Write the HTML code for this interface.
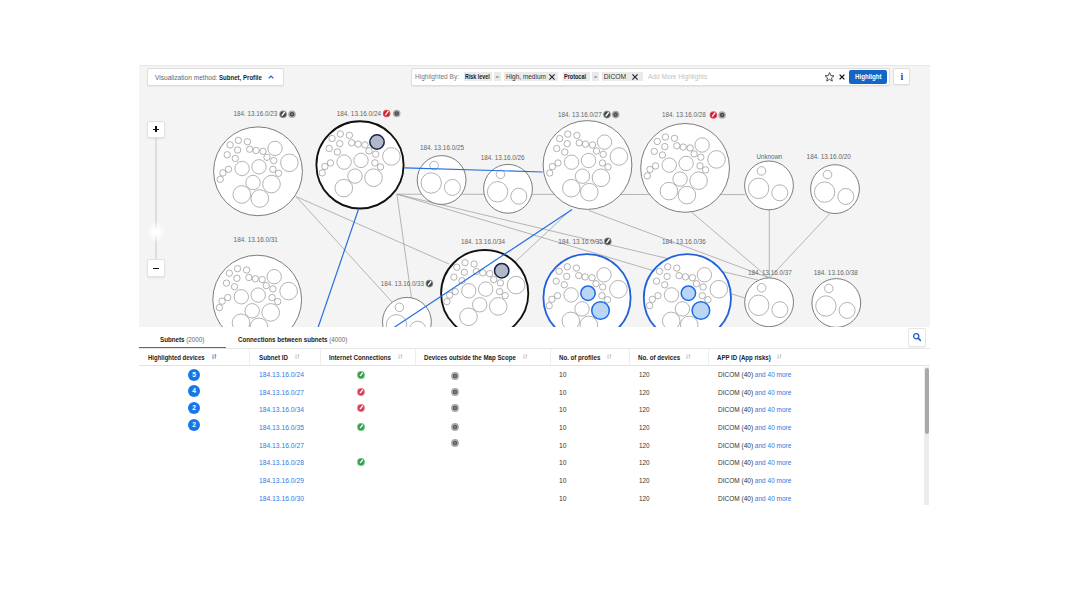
<!DOCTYPE html>
<html><head><meta charset="utf-8">
<style>
*{box-sizing:border-box;margin:0;padding:0}
html,body{width:1067px;height:593px;overflow:hidden;background:#fff}
body{position:relative;font-family:"Liberation Sans",Arial,sans-serif;color:#222}
.abs{position:absolute;white-space:nowrap}
#map{position:absolute;left:139px;top:65px;width:791px;height:262px;background:#f4f4f4;border-top:1px solid #dcecf7;overflow:hidden}
#map svg{position:absolute;left:0;top:-1px}
.o{fill:#fff;stroke:#6e6e6e;stroke-width:.9}
.ob{fill:#fff;stroke:#111;stroke-width:1.85}
.obl{fill:#fff;stroke:#2361dc;stroke-width:1.8}
.i{fill:none;stroke:#999;stroke-width:.75}
.hb{fill:#b1b9c9;stroke:#17234e;stroke-width:1.5}
.hbl{fill:#bad6f6;stroke:#1c6be0;stroke-width:1.5}
.gl{stroke:#9a9a9a;stroke-width:.7}
.bl{stroke:#2370e2;stroke-width:1.2}
.lb{font-family:"Liberation Sans",Arial,sans-serif;font-size:6.85px;fill:#666}
.box{position:absolute;background:#fff;border:1px solid #dedede;border-radius:2px;box-shadow:0 1px 1px rgba(0,0,0,.06)}
.zb{position:absolute;left:147.3px;width:17.3px;height:17.3px;background:#fff;border:1px solid #e2e2e2;border-radius:2px;box-shadow:0 1px 2px rgba(0,0,0,.08)}
#tbl{position:absolute;left:139px;top:327px;width:791px;height:178px;background:#fff}
</style></head><body>
<div id="map">
<svg width="791" height="263" viewBox="139 65 791 263">
<line x1="296.2" y1="196.6" x2="449" y2="264" class="gl"/>
<line x1="296.2" y1="196.6" x2="392" y2="302" class="gl"/>
<line x1="396.9" y1="194.2" x2="745" y2="194.6" class="gl"/>
<line x1="396.9" y1="194.2" x2="411.5" y2="298" class="gl"/>
<line x1="396.9" y1="194.2" x2="758" y2="280" class="gl"/>
<line x1="396.9" y1="194.2" x2="745" y2="298" class="gl"/>
<line x1="567.4" y1="213.1" x2="515" y2="262" class="gl"/>
<line x1="588.9" y1="210.5" x2="768.2" y2="277.5" class="gl"/>
<line x1="692" y1="212.5" x2="768.2" y2="277.5" class="gl"/>
<line x1="769.3" y1="208" x2="769.3" y2="277.5" class="gl"/>
<line x1="829.6" y1="213.8" x2="770" y2="277.5" class="gl"/>
<circle cx="258" cy="171.3" r="44.4" class="o"/>
<circle cx="230.1" cy="144.9" r="3.2" class="i"/>
<circle cx="238.3" cy="140.4" r="3.2" class="i"/>
<circle cx="247.4" cy="141.7" r="3.2" class="i"/>
<circle cx="237.7" cy="150" r="3.2" class="i"/>
<circle cx="249.7" cy="149.2" r="3.2" class="i"/>
<circle cx="256.1" cy="150.5" r="3.2" class="i"/>
<circle cx="263" cy="151.3" r="3.2" class="i"/>
<circle cx="227.2" cy="154.8" r="3.2" class="i"/>
<circle cx="235.3" cy="158.4" r="3.2" class="i"/>
<circle cx="267" cy="157.3" r="3.2" class="i"/>
<circle cx="273.7" cy="160.6" r="3.2" class="i"/>
<circle cx="228.5" cy="169.3" r="3.2" class="i"/>
<circle cx="222.9" cy="172.9" r="3.2" class="i"/>
<circle cx="220.2" cy="179.3" r="3.2" class="i"/>
<circle cx="272.9" cy="169.3" r="3.2" class="i"/>
<circle cx="278.5" cy="173.3" r="3.2" class="i"/>
<circle cx="275" cy="148.4" r="7.2" class="i"/>
<circle cx="242.1" cy="168.5" r="7.2" class="i"/>
<circle cx="259" cy="166.8" r="7.2" class="i"/>
<circle cx="253" cy="182.5" r="7.2" class="i"/>
<circle cx="289.4" cy="162.8" r="8.8" class="i"/>
<circle cx="271.5" cy="184.1" r="8.8" class="i"/>
<circle cx="241.8" cy="194.5" r="8.8" class="i"/>
<circle cx="259.8" cy="198.5" r="8.8" class="i"/>
<circle cx="360" cy="164.9" r="43.6" class="ob"/>
<circle cx="332.1" cy="138.5" r="3.2" class="i"/>
<circle cx="340.3" cy="134" r="3.2" class="i"/>
<circle cx="349.4" cy="135.3" r="3.2" class="i"/>
<circle cx="339.7" cy="143.6" r="3.2" class="i"/>
<circle cx="351.7" cy="142.8" r="3.2" class="i"/>
<circle cx="358.1" cy="144.1" r="3.2" class="i"/>
<circle cx="365" cy="144.9" r="3.2" class="i"/>
<circle cx="329.2" cy="148.4" r="3.2" class="i"/>
<circle cx="337.3" cy="152" r="3.2" class="i"/>
<circle cx="369" cy="150.9" r="3.2" class="i"/>
<circle cx="375.7" cy="154.2" r="3.2" class="i"/>
<circle cx="330.5" cy="162.9" r="3.2" class="i"/>
<circle cx="324.9" cy="166.5" r="3.2" class="i"/>
<circle cx="322.2" cy="172.9" r="3.2" class="i"/>
<circle cx="374.9" cy="162.9" r="3.2" class="i"/>
<circle cx="380.5" cy="166.9" r="3.2" class="i"/>
<circle cx="377" cy="142" r="7.2" class="hb"/>
<circle cx="344.1" cy="162.1" r="7.2" class="i"/>
<circle cx="361" cy="160.4" r="7.2" class="i"/>
<circle cx="355" cy="176.1" r="7.2" class="i"/>
<circle cx="391.4" cy="156.4" r="8.8" class="i"/>
<circle cx="373.5" cy="177.7" r="8.8" class="i"/>
<circle cx="343.8" cy="188.1" r="8.8" class="i"/>
<circle cx="587.5" cy="165" r="44.4" class="o"/>
<circle cx="559.6" cy="138.6" r="3.2" class="i"/>
<circle cx="567.8" cy="134.1" r="3.2" class="i"/>
<circle cx="576.9" cy="135.4" r="3.2" class="i"/>
<circle cx="567.2" cy="143.7" r="3.2" class="i"/>
<circle cx="579.2" cy="142.9" r="3.2" class="i"/>
<circle cx="585.6" cy="144.2" r="3.2" class="i"/>
<circle cx="592.5" cy="145" r="3.2" class="i"/>
<circle cx="556.7" cy="148.5" r="3.2" class="i"/>
<circle cx="564.8" cy="152.1" r="3.2" class="i"/>
<circle cx="596.5" cy="151" r="3.2" class="i"/>
<circle cx="603.2" cy="154.3" r="3.2" class="i"/>
<circle cx="558" cy="163" r="3.2" class="i"/>
<circle cx="552.4" cy="166.6" r="3.2" class="i"/>
<circle cx="549.7" cy="173" r="3.2" class="i"/>
<circle cx="602.4" cy="163" r="3.2" class="i"/>
<circle cx="608" cy="167" r="3.2" class="i"/>
<circle cx="604.5" cy="142.1" r="7.2" class="i"/>
<circle cx="571.6" cy="162.2" r="7.2" class="i"/>
<circle cx="588.5" cy="160.5" r="7.2" class="i"/>
<circle cx="582.5" cy="176.2" r="7.2" class="i"/>
<circle cx="618.9" cy="156.5" r="8.8" class="i"/>
<circle cx="601" cy="177.8" r="8.8" class="i"/>
<circle cx="571.3" cy="188.2" r="8.8" class="i"/>
<circle cx="589.3" cy="192.2" r="8.8" class="i"/>
<circle cx="685.1" cy="167.9" r="44.4" class="o"/>
<circle cx="657.2" cy="141.5" r="3.2" class="i"/>
<circle cx="665.4" cy="137" r="3.2" class="i"/>
<circle cx="674.5" cy="138.3" r="3.2" class="i"/>
<circle cx="664.8" cy="146.6" r="3.2" class="i"/>
<circle cx="676.8" cy="145.8" r="3.2" class="i"/>
<circle cx="683.2" cy="147.1" r="3.2" class="i"/>
<circle cx="690.1" cy="147.9" r="3.2" class="i"/>
<circle cx="654.3" cy="151.4" r="3.2" class="i"/>
<circle cx="662.4" cy="155" r="3.2" class="i"/>
<circle cx="694.1" cy="153.9" r="3.2" class="i"/>
<circle cx="700.8" cy="157.2" r="3.2" class="i"/>
<circle cx="655.6" cy="165.9" r="3.2" class="i"/>
<circle cx="650" cy="169.5" r="3.2" class="i"/>
<circle cx="647.3" cy="175.9" r="3.2" class="i"/>
<circle cx="700" cy="165.9" r="3.2" class="i"/>
<circle cx="705.6" cy="169.9" r="3.2" class="i"/>
<circle cx="702.1" cy="145" r="7.2" class="i"/>
<circle cx="669.2" cy="165.1" r="7.2" class="i"/>
<circle cx="686.1" cy="163.4" r="7.2" class="i"/>
<circle cx="680.1" cy="179.1" r="7.2" class="i"/>
<circle cx="716.5" cy="159.4" r="8.8" class="i"/>
<circle cx="698.6" cy="180.7" r="8.8" class="i"/>
<circle cx="668.9" cy="191.1" r="8.8" class="i"/>
<circle cx="686.9" cy="195.1" r="8.8" class="i"/>
<circle cx="257.2" cy="299.6" r="44.4" class="o"/>
<circle cx="229.3" cy="273.2" r="3.2" class="i"/>
<circle cx="237.5" cy="268.7" r="3.2" class="i"/>
<circle cx="246.6" cy="270" r="3.2" class="i"/>
<circle cx="236.9" cy="278.3" r="3.2" class="i"/>
<circle cx="248.9" cy="277.5" r="3.2" class="i"/>
<circle cx="255.3" cy="278.8" r="3.2" class="i"/>
<circle cx="262.2" cy="279.6" r="3.2" class="i"/>
<circle cx="226.4" cy="283.1" r="3.2" class="i"/>
<circle cx="234.5" cy="286.7" r="3.2" class="i"/>
<circle cx="266.2" cy="285.6" r="3.2" class="i"/>
<circle cx="272.9" cy="288.9" r="3.2" class="i"/>
<circle cx="227.7" cy="297.6" r="3.2" class="i"/>
<circle cx="222.1" cy="301.2" r="3.2" class="i"/>
<circle cx="219.4" cy="307.6" r="3.2" class="i"/>
<circle cx="272.1" cy="297.6" r="3.2" class="i"/>
<circle cx="277.7" cy="301.6" r="3.2" class="i"/>
<circle cx="274.2" cy="276.7" r="7.2" class="i"/>
<circle cx="241.3" cy="296.8" r="7.2" class="i"/>
<circle cx="258.2" cy="295.1" r="7.2" class="i"/>
<circle cx="252.2" cy="310.8" r="7.2" class="i"/>
<circle cx="288.6" cy="291.1" r="8.8" class="i"/>
<circle cx="270.7" cy="312.4" r="8.8" class="i"/>
<circle cx="241" cy="322.8" r="8.8" class="i"/>
<circle cx="259" cy="326.8" r="8.8" class="i"/>
<circle cx="484.7" cy="293.6" r="43.6" class="ob"/>
<circle cx="456.8" cy="267.2" r="3.2" class="i"/>
<circle cx="465" cy="262.7" r="3.2" class="i"/>
<circle cx="474.1" cy="264" r="3.2" class="i"/>
<circle cx="464.4" cy="272.3" r="3.2" class="i"/>
<circle cx="476.4" cy="271.5" r="3.2" class="i"/>
<circle cx="482.8" cy="272.8" r="3.2" class="i"/>
<circle cx="489.7" cy="273.6" r="3.2" class="i"/>
<circle cx="453.9" cy="277.1" r="3.2" class="i"/>
<circle cx="462" cy="280.7" r="3.2" class="i"/>
<circle cx="493.7" cy="279.6" r="3.2" class="i"/>
<circle cx="500.4" cy="282.9" r="3.2" class="i"/>
<circle cx="455.2" cy="291.6" r="3.2" class="i"/>
<circle cx="449.6" cy="295.2" r="3.2" class="i"/>
<circle cx="446.9" cy="301.6" r="3.2" class="i"/>
<circle cx="499.6" cy="291.6" r="3.2" class="i"/>
<circle cx="505.2" cy="295.6" r="3.2" class="i"/>
<circle cx="501.7" cy="270.7" r="7.2" class="hb"/>
<circle cx="468.8" cy="290.8" r="7.2" class="i"/>
<circle cx="485.7" cy="289.1" r="7.2" class="i"/>
<circle cx="479.7" cy="304.8" r="7.2" class="i"/>
<circle cx="516.1" cy="285.1" r="8.8" class="i"/>
<circle cx="498.2" cy="306.4" r="8.8" class="i"/>
<circle cx="468.5" cy="316.8" r="8.8" class="i"/>
<circle cx="587" cy="297.7" r="43.6" class="obl"/>
<circle cx="559.1" cy="271.3" r="3.2" class="i"/>
<circle cx="567.3" cy="266.8" r="3.2" class="i"/>
<circle cx="576.4" cy="268.1" r="3.2" class="i"/>
<circle cx="566.7" cy="276.4" r="3.2" class="i"/>
<circle cx="578.7" cy="275.6" r="3.2" class="i"/>
<circle cx="585.1" cy="276.9" r="3.2" class="i"/>
<circle cx="592" cy="277.7" r="3.2" class="i"/>
<circle cx="556.2" cy="281.2" r="3.2" class="i"/>
<circle cx="564.3" cy="284.8" r="3.2" class="i"/>
<circle cx="596" cy="283.7" r="3.2" class="i"/>
<circle cx="602.7" cy="287" r="3.2" class="i"/>
<circle cx="557.5" cy="295.7" r="3.2" class="i"/>
<circle cx="551.9" cy="299.3" r="3.2" class="i"/>
<circle cx="549.2" cy="305.7" r="3.2" class="i"/>
<circle cx="601.9" cy="295.7" r="3.2" class="i"/>
<circle cx="607.5" cy="299.7" r="3.2" class="i"/>
<circle cx="604" cy="274.8" r="7.2" class="i"/>
<circle cx="571.1" cy="294.9" r="7.2" class="i"/>
<circle cx="588" cy="293.2" r="7.2" class="hbl"/>
<circle cx="582" cy="308.9" r="7.2" class="i"/>
<circle cx="618.4" cy="289.2" r="8.8" class="i"/>
<circle cx="600.5" cy="310.5" r="8.8" class="hbl"/>
<circle cx="570.8" cy="320.9" r="8.8" class="i"/>
<circle cx="588.8" cy="324.9" r="8.8" class="i"/>
<circle cx="687.4" cy="297.7" r="43.6" class="obl"/>
<circle cx="659.5" cy="271.3" r="3.2" class="i"/>
<circle cx="667.7" cy="266.8" r="3.2" class="i"/>
<circle cx="676.8" cy="268.1" r="3.2" class="i"/>
<circle cx="667.1" cy="276.4" r="3.2" class="i"/>
<circle cx="679.1" cy="275.6" r="3.2" class="i"/>
<circle cx="685.5" cy="276.9" r="3.2" class="i"/>
<circle cx="692.4" cy="277.7" r="3.2" class="i"/>
<circle cx="656.6" cy="281.2" r="3.2" class="i"/>
<circle cx="664.7" cy="284.8" r="3.2" class="i"/>
<circle cx="696.4" cy="283.7" r="3.2" class="i"/>
<circle cx="703.1" cy="287" r="3.2" class="i"/>
<circle cx="657.9" cy="295.7" r="3.2" class="i"/>
<circle cx="652.3" cy="299.3" r="3.2" class="i"/>
<circle cx="649.6" cy="305.7" r="3.2" class="i"/>
<circle cx="702.3" cy="295.7" r="3.2" class="i"/>
<circle cx="707.9" cy="299.7" r="3.2" class="i"/>
<circle cx="704.4" cy="274.8" r="7.2" class="i"/>
<circle cx="671.5" cy="294.9" r="7.2" class="i"/>
<circle cx="688.4" cy="293.2" r="7.2" class="hbl"/>
<circle cx="682.4" cy="308.9" r="7.2" class="i"/>
<circle cx="718.8" cy="289.2" r="8.8" class="i"/>
<circle cx="700.9" cy="310.5" r="8.8" class="hbl"/>
<circle cx="671.2" cy="320.9" r="8.8" class="i"/>
<circle cx="689.2" cy="324.9" r="8.8" class="i"/>
<circle cx="441.6" cy="180" r="24.4" class="o"/>
<circle cx="434.1" cy="165.5" r="4.3" class="i"/>
<circle cx="431.2" cy="183" r="10.2" class="i"/>
<circle cx="452.4" cy="187.4" r="8" class="i"/>
<circle cx="508" cy="188.8" r="24.4" class="o"/>
<circle cx="500.5" cy="174.3" r="4.3" class="i"/>
<circle cx="497.6" cy="191.8" r="10.2" class="i"/>
<circle cx="518.8" cy="196.2" r="8" class="i"/>
<circle cx="769" cy="185.4" r="24.4" class="o"/>
<circle cx="761.5" cy="170.9" r="4.3" class="i"/>
<circle cx="758.6" cy="188.4" r="10.2" class="i"/>
<circle cx="779.8" cy="192.8" r="8" class="i"/>
<circle cx="835" cy="189.1" r="24.4" class="o"/>
<circle cx="827.5" cy="174.6" r="4.3" class="i"/>
<circle cx="824.6" cy="192.1" r="10.2" class="i"/>
<circle cx="845.8" cy="196.5" r="8" class="i"/>
<circle cx="406.9" cy="321.8" r="24.4" class="o"/>
<circle cx="399.4" cy="307.3" r="4.3" class="i"/>
<circle cx="396.5" cy="324.8" r="10.2" class="i"/>
<circle cx="417.7" cy="329.2" r="8" class="i"/>
<circle cx="769.1" cy="302.3" r="24.4" class="o"/>
<circle cx="761.6" cy="287.8" r="4.3" class="i"/>
<circle cx="758.7" cy="305.3" r="10.2" class="i"/>
<circle cx="779.9" cy="309.7" r="8" class="i"/>
<circle cx="836.3" cy="303" r="24.4" class="o"/>
<circle cx="828.8" cy="288.5" r="4.3" class="i"/>
<circle cx="825.9" cy="306" r="10.2" class="i"/>
<circle cx="847.1" cy="310.4" r="8" class="i"/>
<line x1="404.5" y1="167.8" x2="542.6" y2="172" class="bl"/>
<line x1="358.5" y1="209.3" x2="315.5" y2="335" class="bl"/>
<line x1="572.1" y1="209.4" x2="382.7" y2="335" class="bl"/>
<text x="233.6" y="116.35" class="lb" textLength="43.6" lengthAdjust="spacingAndGlyphs">184. 13.16.0/23</text>
<text x="336.7" y="115.95" class="lb" textLength="44.3" lengthAdjust="spacingAndGlyphs">184. 13.16.0/24</text>
<text x="420.0" y="149.85" class="lb" textLength="44.0" lengthAdjust="spacingAndGlyphs">184. 13.16.0/25</text>
<text x="480.8" y="159.95" class="lb" textLength="43.8" lengthAdjust="spacingAndGlyphs">184. 13.16.0/26</text>
<text x="557.9" y="117.05" class="lb" textLength="43.8" lengthAdjust="spacingAndGlyphs">184. 13.16.0/27</text>
<text x="662.0" y="117.45" class="lb" textLength="43.7" lengthAdjust="spacingAndGlyphs">184. 13.16.0/28</text>
<text x="756.5" y="159.25" class="lb" textLength="25.8" lengthAdjust="spacingAndGlyphs">Unknown</text>
<text x="806.6" y="159.35" class="lb" textLength="44.2" lengthAdjust="spacingAndGlyphs">184. 13.16.0/20</text>
<text x="233.6" y="242.45" class="lb" textLength="44.3" lengthAdjust="spacingAndGlyphs">184. 13.16.0/31</text>
<text x="380.8" y="286.35" class="lb" textLength="43.2" lengthAdjust="spacingAndGlyphs">184. 13.16.0/33</text>
<text x="461.0" y="244.25" class="lb" textLength="44.0" lengthAdjust="spacingAndGlyphs">184. 13.16.0/34</text>
<text x="558.2" y="243.85" class="lb" textLength="44.7" lengthAdjust="spacingAndGlyphs">184. 13.16.0/35</text>
<text x="662.0" y="243.85" class="lb" textLength="43.8" lengthAdjust="spacingAndGlyphs">184. 13.16.0/36</text>
<text x="747.9" y="275.05" class="lb" textLength="44.0" lengthAdjust="spacingAndGlyphs">184. 13.16.0/37</text>
<text x="813.8" y="274.65" class="lb" textLength="44.0" lengthAdjust="spacingAndGlyphs">184. 13.16.0/38</text>
<circle cx="283.1" cy="114.2" r="3.8" fill="#8a8a8a"/><circle cx="283.1" cy="114.2" r="2.8" fill="#444"/><path d="M284.50 112.30 L282.20 115.30" stroke="#fff" stroke-width="1.4" stroke-linecap="round"/>
<circle cx="292" cy="114.2" r="3.8" fill="#ababab"/><circle cx="292" cy="114.2" r="2.3" fill="#474747"/><circle cx="292" cy="114.2" r="1.1" fill="#808080"/>
<circle cx="386.6" cy="113.5" r="3.8" fill="#e9525d"/><circle cx="386.6" cy="113.5" r="2.8" fill="#c91f2c"/><path d="M388.00 111.60 L385.70 114.60" stroke="#fff" stroke-width="1.4" stroke-linecap="round"/>
<circle cx="396.7" cy="113.5" r="3.8" fill="#ababab"/><circle cx="396.7" cy="113.5" r="2.3" fill="#474747"/><circle cx="396.7" cy="113.5" r="1.1" fill="#808080"/>
<circle cx="607" cy="114.6" r="3.8" fill="#8a8a8a"/><circle cx="607" cy="114.6" r="2.8" fill="#444"/><path d="M608.40 112.70 L606.10 115.70" stroke="#fff" stroke-width="1.4" stroke-linecap="round"/>
<circle cx="615.6" cy="114.6" r="3.8" fill="#ababab"/><circle cx="615.6" cy="114.6" r="2.3" fill="#474747"/><circle cx="615.6" cy="114.6" r="1.1" fill="#808080"/>
<circle cx="713.4" cy="115" r="3.8" fill="#e9525d"/><circle cx="713.4" cy="115" r="2.8" fill="#c91f2c"/><path d="M714.80 113.10 L712.50 116.10" stroke="#fff" stroke-width="1.4" stroke-linecap="round"/>
<circle cx="722.1" cy="115" r="3.8" fill="#ababab"/><circle cx="722.1" cy="115" r="2.3" fill="#474747"/><circle cx="722.1" cy="115" r="1.1" fill="#808080"/>
<circle cx="429.4" cy="283.6" r="3.8" fill="#8a8a8a"/><circle cx="429.4" cy="283.6" r="2.8" fill="#444"/><path d="M430.80 281.70 L428.50 284.70" stroke="#fff" stroke-width="1.4" stroke-linecap="round"/>
<circle cx="607.8" cy="241.4" r="3.8" fill="#8a8a8a"/><circle cx="607.8" cy="241.4" r="2.8" fill="#444"/><path d="M609.20 239.50 L606.90 242.50" stroke="#fff" stroke-width="1.4" stroke-linecap="round"/>
</svg>
</div>
<div class="box" style="left:147.3px;top:67.9px;width:136.4px;height:18px"></div>
<div class="abs" style="left:154.5px;top:73.00px;height:10px;line-height:10px;font-size:6.9px;color:#666;transform:scaleX(0.9560);transform-origin:0 50%;">Visualization method:</div>
<div class="abs" style="left:219.4px;top:73.00px;height:10px;line-height:10px;font-size:6.9px;color:#1e1e1e;font-weight:bold;transform:scaleX(0.8823);transform-origin:0 50%;">Subnet, Profile</div>
<svg class="abs" style="left:266.5px;top:74px" width="8" height="6" viewBox="0 0 8 6"><path d="M1.6 4.4 L4 2 L6.4 4.4" fill="none" stroke="#1f5fcf" stroke-width="1.2"/></svg>
<div class="box" style="left:410.5px;top:68.3px;width:479px;height:17.3px"></div>
<div class="abs" style="left:414.8px;top:72.40px;height:10px;line-height:10px;font-size:6.7px;color:#777;transform:scaleX(0.9781);transform-origin:0 50%;">Highlighted By:</div>
<div class="abs" style="left:464.2px;top:72.4px;width:28.1px;height:8.8px;background:#eaeaea"></div>
<div class="abs" style="left:493.7px;top:72.4px;width:7.5px;height:8.8px;background:#eaeaea"></div>
<div class="abs" style="left:504px;top:72.4px;width:53.5px;height:8.8px;background:#eaeaea"></div>
<div class="abs" style="left:562.5px;top:72.4px;width:27.2px;height:8.8px;background:#eaeaea"></div>
<div class="abs" style="left:592px;top:72.4px;width:7.0px;height:8.8px;background:#eaeaea"></div>
<div class="abs" style="left:602.3px;top:72.4px;width:40.3px;height:8.8px;background:#eaeaea"></div>
<div class="abs" style="left:465.2px;top:72.40px;height:10px;line-height:10px;font-size:6.4px;color:#1a1a1a;font-weight:bold;transform:scaleX(0.8407);transform-origin:0 50%;">Risk level</div>
<div class="abs" style="left:495.6px;top:72.40px;height:10px;line-height:10px;font-size:6px;color:#777;">=</div>
<div class="abs" style="left:505.9px;top:72.40px;height:10px;line-height:10px;font-size:6.6px;color:#333;transform:scaleX(0.9806);transform-origin:0 50%;">High, medium</div>
<div class="abs" style="left:563.9px;top:72.40px;height:10px;line-height:10px;font-size:6.4px;color:#1a1a1a;font-weight:bold;transform:scaleX(0.8601);transform-origin:0 50%;">Protocal</div>
<div class="abs" style="left:593.7px;top:72.40px;height:10px;line-height:10px;font-size:6px;color:#777;">=</div>
<div class="abs" style="left:603.7px;top:72.40px;height:10px;line-height:10px;font-size:6.75px;color:#333;transform:scaleX(1.0000);transform-origin:0 50%;">DICOM</div>
<svg class="abs" style="left:547.6px;top:72.8px" width="8" height="8" viewBox="-4 -4 8 8"><path d="M-2.6 -2.6 L2.6 2.6 M2.6 -2.6 L-2.6 2.6" stroke="#222" stroke-width="1.1"/></svg>
<svg class="abs" style="left:631.4px;top:72.8px" width="8" height="8" viewBox="-4 -4 8 8"><path d="M-2.6 -2.6 L2.6 2.6 M2.6 -2.6 L-2.6 2.6" stroke="#222" stroke-width="1.1"/></svg>
<div class="abs" style="left:648.2px;top:72.40px;height:10px;line-height:10px;font-size:6.6px;color:#c2c2c2;transform:scaleX(0.9971);transform-origin:0 50%;">Add More Highlights</div>
<svg class="abs" style="left:823.6px;top:72px" width="11" height="10" viewBox="0 0 11 10"><path d="M5.5 .6 L6.8 3.6 L10 3.8 L7.5 5.9 L8.3 9.1 L5.5 7.4 L2.7 9.1 L3.5 5.9 L1 3.8 L4.2 3.6 Z" fill="none" stroke="#222" stroke-width=".8" stroke-linejoin="round"/></svg>
<svg class="abs" style="left:838.4px;top:72.9px" width="8" height="8" viewBox="-4 -4 8 8"><path d="M-2.4 -2.4 L2.4 2.4 M2.4 -2.4 L-2.4 2.4" stroke="#111" stroke-width="1.3"/></svg>
<div class="abs" style="left:849.1px;top:70.4px;width:38.1px;height:13.2px;background:#1465c8;border-radius:2px"></div>
<div class="abs" style="left:854.7px;top:72.20px;height:10px;line-height:10px;font-size:6.8px;color:#fff;font-weight:bold;transform:scaleX(0.9031);transform-origin:0 50%;">Highlight</div>
<div class="box" style="left:893px;top:68px;width:17px;height:17px"></div>
<div class="abs" style="left:900.5px;top:71.90px;height:10px;line-height:10px;font-size:10px;color:#1c3f9e;font-weight:bold;font-family:'Liberation Serif',serif;">i</div>
<div class="abs" style="left:155px;top:138px;width:1.6px;height:121.5px;background:#dedede"></div>
<div class="zb" style="top:120.5px"></div>
<div class="abs" style="left:153px;top:128.5px;width:6.4px;height:1.5px;background:#111"></div>
<div class="abs" style="left:155.45px;top:126px;width:1.5px;height:6.4px;background:#111"></div>
<div class="zb" style="top:259.4px"></div>
<div class="abs" style="left:153.3px;top:267.9px;width:5.8px;height:1.5px;background:#111"></div>
<div class="abs" style="left:146.8px;top:222.8px;width:18px;height:18px;border-radius:50%;background:radial-gradient(circle,#fff 0,#fff 22%,rgba(255,255,255,.55) 42%,rgba(255,255,255,.2) 80%,rgba(210,210,210,.35) 97%,rgba(210,210,210,0) 100%)"></div>
<div id="tbl"></div>
<div class="abs" style="left:160px;top:334.90px;height:10px;line-height:10px;font-size:6.8px;transform:scaleX(0.9158);transform-origin:0 50%;"><b style="color:#222">Subnets</b> <span style="color:#666">(2000)</span></div>
<div class="abs" style="left:237.8px;top:334.90px;height:10px;line-height:10px;font-size:6.8px;transform:scaleX(0.9119);transform-origin:0 50%;"><b style="color:#222">Connections between subnets</b> <span style="color:#666">(4000)</span></div>
<div class="abs" style="left:139px;top:346.7px;width:86.7px;height:1.3px;background:#2b6fdc"></div>
<div class="abs" style="left:139px;top:348px;width:791px;height:1px;background:#e6e6e6"></div>
<div class="abs" style="left:139px;top:365px;width:791px;height:1px;background:#e2e2e2"></div>
<div class="abs" style="left:249px;top:349px;width:1px;height:16px;background:#ededed"></div>
<div class="abs" style="left:320px;top:349px;width:1px;height:16px;background:#ededed"></div>
<div class="abs" style="left:415px;top:349px;width:1px;height:16px;background:#ededed"></div>
<div class="abs" style="left:550px;top:349px;width:1px;height:16px;background:#ededed"></div>
<div class="abs" style="left:629px;top:349px;width:1px;height:16px;background:#ededed"></div>
<div class="abs" style="left:708px;top:349px;width:1px;height:16px;background:#ededed"></div>
<div class="box" style="left:907.8px;top:328.3px;width:18.5px;height:18.5px;border-color:#e6e6e6"></div>
<svg class="abs" style="left:912px;top:332px" width="10" height="10" viewBox="0 0 10 10"><circle cx="4.2" cy="4.2" r="2.6" fill="none" stroke="#1f5fd0" stroke-width="1.3"/><path d="M6.1 6.1 L8.4 8.4" stroke="#1f5fd0" stroke-width="1.5" stroke-linecap="round"/></svg>
<div class="abs" style="left:147.7px;top:353.00px;height:10px;line-height:10px;font-size:6.9px;color:#222;font-weight:bold;transform:scaleX(0.8695);transform-origin:0 50%;">Highlighted devices</div>
<svg class="abs" style="left:211.7px;top:354.3px" width="5" height="5" viewBox="0 0 5 5"><path d="M1 .3 V4.4 M.1 3.4 L1 4.4 L1.9 3.4 M3.4 4.6 V.5 M2.5 1.5 L3.4 .5 L4.3 1.5" fill="none" stroke="#3a78d8" stroke-width=".75"/></svg>
<div class="abs" style="left:258.8px;top:353.00px;height:10px;line-height:10px;font-size:6.9px;color:#222;font-weight:bold;transform:scaleX(0.9018);transform-origin:0 50%;">Subnet ID</div>
<svg class="abs" style="left:294.7px;top:354.3px" width="5" height="5" viewBox="0 0 5 5"><path d="M1 .3 V4.4 M.1 3.4 L1 4.4 L1.9 3.4 M3.4 4.6 V.5 M2.5 1.5 L3.4 .5 L4.3 1.5" fill="none" stroke="#bbb" stroke-width=".75"/></svg>
<div class="abs" style="left:328.6px;top:353.00px;height:10px;line-height:10px;font-size:6.9px;color:#222;font-weight:bold;transform:scaleX(0.8981);transform-origin:0 50%;">Internet Connections</div>
<svg class="abs" style="left:398.2px;top:354.3px" width="5" height="5" viewBox="0 0 5 5"><path d="M1 .3 V4.4 M.1 3.4 L1 4.4 L1.9 3.4 M3.4 4.6 V.5 M2.5 1.5 L3.4 .5 L4.3 1.5" fill="none" stroke="#bbb" stroke-width=".75"/></svg>
<div class="abs" style="left:424.1px;top:353.00px;height:10px;line-height:10px;font-size:6.9px;color:#222;font-weight:bold;transform:scaleX(0.8921);transform-origin:0 50%;">Devices outside the Map Scope</div>
<svg class="abs" style="left:523.2px;top:354.3px" width="5" height="5" viewBox="0 0 5 5"><path d="M1 .3 V4.4 M.1 3.4 L1 4.4 L1.9 3.4 M3.4 4.6 V.5 M2.5 1.5 L3.4 .5 L4.3 1.5" fill="none" stroke="#bbb" stroke-width=".75"/></svg>
<div class="abs" style="left:559px;top:353.00px;height:10px;line-height:10px;font-size:6.9px;color:#222;font-weight:bold;transform:scaleX(0.8915);transform-origin:0 50%;">No. of profiles</div>
<svg class="abs" style="left:606.9000000000001px;top:354.3px" width="5" height="5" viewBox="0 0 5 5"><path d="M1 .3 V4.4 M.1 3.4 L1 4.4 L1.9 3.4 M3.4 4.6 V.5 M2.5 1.5 L3.4 .5 L4.3 1.5" fill="none" stroke="#bbb" stroke-width=".75"/></svg>
<div class="abs" style="left:637.8px;top:353.00px;height:10px;line-height:10px;font-size:6.9px;color:#222;font-weight:bold;transform:scaleX(0.9011);transform-origin:0 50%;">No. of devices</div>
<svg class="abs" style="left:686.3000000000001px;top:354.3px" width="5" height="5" viewBox="0 0 5 5"><path d="M1 .3 V4.4 M.1 3.4 L1 4.4 L1.9 3.4 M3.4 4.6 V.5 M2.5 1.5 L3.4 .5 L4.3 1.5" fill="none" stroke="#bbb" stroke-width=".75"/></svg>
<div class="abs" style="left:717.1px;top:353.00px;height:10px;line-height:10px;font-size:6.9px;color:#222;font-weight:bold;transform:scaleX(0.8837);transform-origin:0 50%;">APP ID (App risks)</div>
<svg class="abs" style="left:777.2px;top:354.3px" width="5" height="5" viewBox="0 0 5 5"><path d="M1 .3 V4.4 M.1 3.4 L1 4.4 L1.9 3.4 M3.4 4.6 V.5 M2.5 1.5 L3.4 .5 L4.3 1.5" fill="none" stroke="#bbb" stroke-width=".75"/></svg>
<div class="abs" style="left:259.1px;top:370.30px;height:10px;line-height:10px;font-size:6.8px;color:#2f7be0;transform:scaleX(0.9921);transform-origin:0 50%;">184.13.16.0/24</div>
<div class="abs" style="left:559.4px;top:370.30px;height:10px;line-height:10px;font-size:6.8px;color:#333;transform:scaleX(0.9917);transform-origin:0 50%;">10</div>
<div class="abs" style="left:639px;top:370.30px;height:10px;line-height:10px;font-size:6.8px;color:#333;transform:scaleX(0.9344);transform-origin:0 50%;">120</div>
<div class="abs" style="left:717.5px;top:370.30px;height:10px;line-height:10px;font-size:6.8px;color:#333;transform:scaleX(0.9569);transform-origin:0 50%;">DICOM (40) <span style="color:#2f7be0">and 40 more</span></div>
<div class="abs" style="left:259.1px;top:387.80px;height:10px;line-height:10px;font-size:6.8px;color:#2f7be0;transform:scaleX(0.9921);transform-origin:0 50%;">184.13.16.0/27</div>
<div class="abs" style="left:559.4px;top:387.80px;height:10px;line-height:10px;font-size:6.8px;color:#333;transform:scaleX(0.9917);transform-origin:0 50%;">10</div>
<div class="abs" style="left:639px;top:387.80px;height:10px;line-height:10px;font-size:6.8px;color:#333;transform:scaleX(0.9344);transform-origin:0 50%;">120</div>
<div class="abs" style="left:717.5px;top:387.80px;height:10px;line-height:10px;font-size:6.8px;color:#333;transform:scaleX(0.9569);transform-origin:0 50%;">DICOM (40) <span style="color:#2f7be0">and 40 more</span></div>
<div class="abs" style="left:259.1px;top:405.30px;height:10px;line-height:10px;font-size:6.8px;color:#2f7be0;transform:scaleX(0.9921);transform-origin:0 50%;">184.13.16.0/34</div>
<div class="abs" style="left:559.4px;top:405.30px;height:10px;line-height:10px;font-size:6.8px;color:#333;transform:scaleX(0.9917);transform-origin:0 50%;">10</div>
<div class="abs" style="left:639px;top:405.30px;height:10px;line-height:10px;font-size:6.8px;color:#333;transform:scaleX(0.9344);transform-origin:0 50%;">120</div>
<div class="abs" style="left:717.5px;top:405.30px;height:10px;line-height:10px;font-size:6.8px;color:#333;transform:scaleX(0.9569);transform-origin:0 50%;">DICOM (40) <span style="color:#2f7be0">and 40 more</span></div>
<div class="abs" style="left:259.1px;top:422.90px;height:10px;line-height:10px;font-size:6.8px;color:#2f7be0;transform:scaleX(0.9921);transform-origin:0 50%;">184.13.16.0/35</div>
<div class="abs" style="left:559.4px;top:422.90px;height:10px;line-height:10px;font-size:6.8px;color:#333;transform:scaleX(0.9917);transform-origin:0 50%;">10</div>
<div class="abs" style="left:639px;top:422.90px;height:10px;line-height:10px;font-size:6.8px;color:#333;transform:scaleX(0.9344);transform-origin:0 50%;">120</div>
<div class="abs" style="left:717.5px;top:422.90px;height:10px;line-height:10px;font-size:6.8px;color:#333;transform:scaleX(0.9569);transform-origin:0 50%;">DICOM (40) <span style="color:#2f7be0">and 40 more</span></div>
<div class="abs" style="left:259.1px;top:440.70px;height:10px;line-height:10px;font-size:6.8px;color:#2f7be0;transform:scaleX(0.9921);transform-origin:0 50%;">184.13.16.0/27</div>
<div class="abs" style="left:559.4px;top:440.70px;height:10px;line-height:10px;font-size:6.8px;color:#333;transform:scaleX(0.9917);transform-origin:0 50%;">10</div>
<div class="abs" style="left:639px;top:440.70px;height:10px;line-height:10px;font-size:6.8px;color:#333;transform:scaleX(0.9344);transform-origin:0 50%;">120</div>
<div class="abs" style="left:717.5px;top:440.70px;height:10px;line-height:10px;font-size:6.8px;color:#333;transform:scaleX(0.9569);transform-origin:0 50%;">DICOM (40) <span style="color:#2f7be0">and 40 more</span></div>
<div class="abs" style="left:259.1px;top:458.30px;height:10px;line-height:10px;font-size:6.8px;color:#2f7be0;transform:scaleX(0.9921);transform-origin:0 50%;">184.13.16.0/28</div>
<div class="abs" style="left:559.4px;top:458.30px;height:10px;line-height:10px;font-size:6.8px;color:#333;transform:scaleX(0.9917);transform-origin:0 50%;">10</div>
<div class="abs" style="left:639px;top:458.30px;height:10px;line-height:10px;font-size:6.8px;color:#333;transform:scaleX(0.9344);transform-origin:0 50%;">120</div>
<div class="abs" style="left:717.5px;top:458.30px;height:10px;line-height:10px;font-size:6.8px;color:#333;transform:scaleX(0.9569);transform-origin:0 50%;">DICOM (40) <span style="color:#2f7be0">and 40 more</span></div>
<div class="abs" style="left:259.1px;top:476.00px;height:10px;line-height:10px;font-size:6.8px;color:#2f7be0;transform:scaleX(0.9921);transform-origin:0 50%;">184.13.16.0/29</div>
<div class="abs" style="left:559.4px;top:476.00px;height:10px;line-height:10px;font-size:6.8px;color:#333;transform:scaleX(0.9917);transform-origin:0 50%;">10</div>
<div class="abs" style="left:639px;top:476.00px;height:10px;line-height:10px;font-size:6.8px;color:#333;transform:scaleX(0.9344);transform-origin:0 50%;">120</div>
<div class="abs" style="left:717.5px;top:476.00px;height:10px;line-height:10px;font-size:6.8px;color:#333;transform:scaleX(0.9569);transform-origin:0 50%;">DICOM (40) <span style="color:#2f7be0">and 40 more</span></div>
<div class="abs" style="left:259.1px;top:493.60px;height:10px;line-height:10px;font-size:6.8px;color:#2f7be0;transform:scaleX(0.9921);transform-origin:0 50%;">184.13.16.0/30</div>
<div class="abs" style="left:559.4px;top:493.60px;height:10px;line-height:10px;font-size:6.8px;color:#333;transform:scaleX(0.9917);transform-origin:0 50%;">10</div>
<div class="abs" style="left:639px;top:493.60px;height:10px;line-height:10px;font-size:6.8px;color:#333;transform:scaleX(0.9344);transform-origin:0 50%;">120</div>
<div class="abs" style="left:717.5px;top:493.60px;height:10px;line-height:10px;font-size:6.8px;color:#333;transform:scaleX(0.9569);transform-origin:0 50%;">DICOM (40) <span style="color:#2f7be0">and 40 more</span></div>
<div class="abs" style="left:188px;top:368.7px;width:12px;height:12px;border-radius:50%;background:#1877e8;color:#fff;font-size:6.6px;font-weight:bold;line-height:12px;text-align:center">5</div>
<div class="abs" style="left:188px;top:385.2px;width:12px;height:12px;border-radius:50%;background:#1877e8;color:#fff;font-size:6.6px;font-weight:bold;line-height:12px;text-align:center">4</div>
<div class="abs" style="left:188px;top:401.7px;width:12px;height:12px;border-radius:50%;background:#1877e8;color:#fff;font-size:6.6px;font-weight:bold;line-height:12px;text-align:center">2</div>
<div class="abs" style="left:188px;top:418.6px;width:12px;height:12px;border-radius:50%;background:#1877e8;color:#fff;font-size:6.6px;font-weight:bold;line-height:12px;text-align:center">2</div>
<svg class="abs" style="left:356.2px;top:370.3px" width="10" height="10" viewBox="-5 -5 10 10"><circle r="3.9" fill="#62c27c"/><circle r="2.9" fill="#2f9d4c"/><path d="M1.4 -1.9 L-0.9 1.1" stroke="#fff" stroke-width="1.4" stroke-linecap="round"/><circle cx="-1.1" cy="1.5" r=".55" fill="#5a1a1a"/></svg>
<svg class="abs" style="left:356.2px;top:386.9px" width="10" height="10" viewBox="-5 -5 10 10"><circle r="3.9" fill="#ee7480"/><circle r="2.9" fill="#d83a4b"/><path d="M1.4 -1.9 L-0.9 1.1" stroke="#fff" stroke-width="1.4" stroke-linecap="round"/><circle cx="-1.1" cy="1.5" r=".55" fill="#5a1a1a"/></svg>
<svg class="abs" style="left:356.2px;top:402.8px" width="10" height="10" viewBox="-5 -5 10 10"><circle r="3.9" fill="#ee7480"/><circle r="2.9" fill="#d83a4b"/><path d="M1.4 -1.9 L-0.9 1.1" stroke="#fff" stroke-width="1.4" stroke-linecap="round"/><circle cx="-1.1" cy="1.5" r=".55" fill="#5a1a1a"/></svg>
<svg class="abs" style="left:356.2px;top:422px" width="10" height="10" viewBox="-5 -5 10 10"><circle r="3.9" fill="#62c27c"/><circle r="2.9" fill="#2f9d4c"/><path d="M1.4 -1.9 L-0.9 1.1" stroke="#fff" stroke-width="1.4" stroke-linecap="round"/><circle cx="-1.1" cy="1.5" r=".55" fill="#5a1a1a"/></svg>
<svg class="abs" style="left:356.2px;top:456.5px" width="10" height="10" viewBox="-5 -5 10 10"><circle r="3.9" fill="#62c27c"/><circle r="2.9" fill="#2f9d4c"/><path d="M1.4 -1.9 L-0.9 1.1" stroke="#fff" stroke-width="1.4" stroke-linecap="round"/><circle cx="-1.1" cy="1.5" r=".55" fill="#5a1a1a"/></svg>
<svg class="abs" style="left:449.8px;top:370.5px" width="10" height="10" viewBox="-5 -5 10 10"><circle r="3.9" fill="#a5a5a5"/><circle r="2.1" fill="#4d4d4d"/><circle r="1" fill="#8a8a8a"/></svg>
<svg class="abs" style="left:449.8px;top:386.9px" width="10" height="10" viewBox="-5 -5 10 10"><circle r="3.9" fill="#a5a5a5"/><circle r="2.1" fill="#4d4d4d"/><circle r="1" fill="#8a8a8a"/></svg>
<svg class="abs" style="left:449.8px;top:402.8px" width="10" height="10" viewBox="-5 -5 10 10"><circle r="3.9" fill="#a5a5a5"/><circle r="2.1" fill="#4d4d4d"/><circle r="1" fill="#8a8a8a"/></svg>
<svg class="abs" style="left:449.8px;top:422px" width="10" height="10" viewBox="-5 -5 10 10"><circle r="3.9" fill="#a5a5a5"/><circle r="2.1" fill="#4d4d4d"/><circle r="1" fill="#8a8a8a"/></svg>
<svg class="abs" style="left:449.8px;top:438.2px" width="10" height="10" viewBox="-5 -5 10 10"><circle r="3.9" fill="#a5a5a5"/><circle r="2.1" fill="#4d4d4d"/><circle r="1" fill="#8a8a8a"/></svg>
<div class="abs" style="left:923.7px;top:367.1px;width:5.4px;height:137.5px;background:#ececec"></div>
<div class="abs" style="left:924.6px;top:368px;width:4px;height:65.7px;background:#a9a9a9;border-radius:2px"></div>
</body></html>
